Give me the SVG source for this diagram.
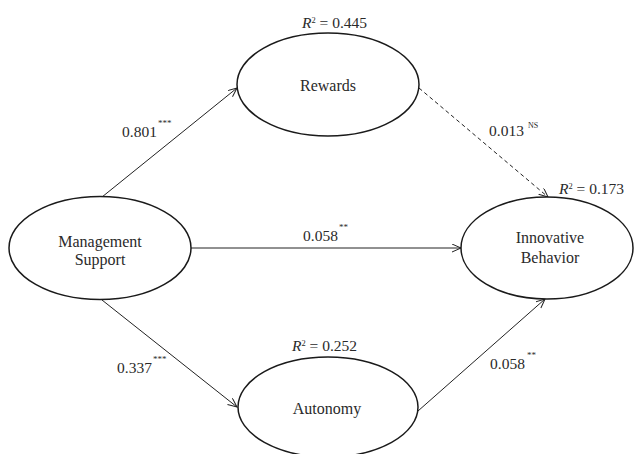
<svg xmlns="http://www.w3.org/2000/svg" width="635" height="454" viewBox="0 0 635 454">
<defs>
<style>
.node ellipse{fill:#fff;stroke:#1a1a1a;stroke-width:1.5}
text{font-family:"Liberation Serif","Times New Roman",serif;fill:#2a2a2a}
.lbl{font-size:16px;text-anchor:middle}
.num{font-size:15.5px}
.sup{font-size:9px}
.edge{stroke:#222;stroke-width:1;fill:none;marker-end:url(#arr)}
.dash{stroke-dasharray:4,3}
</style>
<marker id="arr" markerUnits="userSpaceOnUse" markerWidth="12" markerHeight="12" refX="9" refY="4" orient="auto">
<path d="M0,0 L9,4 L0,8" fill="none" stroke="#222" stroke-width="1"/>
</marker>
</defs>
<g id="connectors">
<line class="edge" x1="102" y1="197" x2="237" y2="88"/>
<line class="edge" x1="191" y1="248" x2="461" y2="248"/>
<line class="edge" x1="102" y1="300" x2="237" y2="407"/>
<line class="edge dash" x1="419" y1="88" x2="548" y2="197"/>
<line class="edge" x1="418" y1="411" x2="545" y2="299"/>
</g>
<g id="rewards" class="node">
<ellipse cx="328" cy="84.5" rx="91" ry="51.5"/>
<text class="lbl" x="328" y="91">Rewards</text>
<text class="num" x="302" y="28"><tspan font-style="italic">R</tspan><tspan font-size="8.5" dy="-5">2</tspan><tspan dy="5"> = 0.445</tspan></text>
</g>
<g id="management-support" class="node">
<ellipse cx="100" cy="248" rx="91" ry="51.5"/>
<text class="lbl" x="100" y="247">Management</text>
<text class="lbl" x="100" y="265">Support</text>
</g>
<g id="innovative-behavior" class="node">
<ellipse cx="547" cy="248" rx="86" ry="51"/>
<text class="lbl" x="550" y="243">Innovative</text>
<text class="lbl" x="550" y="263">Behavior</text>
<text class="num" x="559" y="194"><tspan font-style="italic">R</tspan><tspan font-size="8.5" dy="-5">2</tspan><tspan dy="5"> = 0.173</tspan></text>
</g>
<g id="autonomy" class="node">
<ellipse cx="328" cy="407" rx="90" ry="50"/>
<text class="lbl" x="327" y="414">Autonomy</text>
<text class="num" x="292" y="351"><tspan font-style="italic">R</tspan><tspan font-size="8.5" dy="-5">2</tspan><tspan dy="5"> = 0.252</tspan></text>
</g>
<g id="edge-labels">
<text class="num" x="122" y="137">0.801<tspan class="sup" dx="1" dy="-11">***</tspan></text>
<text class="num" x="303" y="241">0.058<tspan class="sup" dx="1" dy="-11">**</tspan></text>
<text class="num" x="117" y="373">0.337<tspan class="sup" dx="1" dy="-11">***</tspan></text>
<text class="num" x="490" y="369">0.058<tspan class="sup" dx="2" dy="-11">**</tspan></text>
<text class="num" x="489" y="136">0.013<tspan font-size="8" dx="4" dy="-8.5">NS</tspan></text>
</g>
</svg>
